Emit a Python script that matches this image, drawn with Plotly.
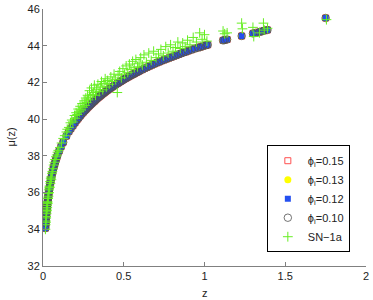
import plotly.graph_objects as go

# redshifts of the model points
z_model = [0.015,0.016,0.017,0.018,0.019,0.020,0.021,0.022,0.023,0.024,0.025,0.026,0.027,0.028,0.029,0.030,
           0.031,0.032,0.033,0.034,0.036,0.038,0.040,0.042,0.044,0.046,0.048,0.050,0.053,0.056,0.060,0.064,
           0.068,0.072,0.076,0.080,0.085,0.090,0.100,0.112,0.125,0.145,0.160,0.172,0.185,0.198,0.210,0.220,
           0.230,0.240,0.250,0.258,0.265,0.272,0.280,0.288,0.295,0.302,0.310,0.318,0.325,0.332,0.340,0.348,
           0.355,0.362,0.370,0.378,0.385,0.392,0.400,0.410,0.420,0.430,0.440,0.450,0.460,0.470,0.480,0.490,
           0.500,0.510,0.520,0.530,0.540,0.550,0.560,0.570,0.580,0.590,0.600,0.615,0.630,0.645,0.660,0.675,
           0.690,0.705,0.720,0.735,0.750,0.765,0.780,0.795,0.810,0.825,0.840,0.855,0.870,0.885,0.900,0.920,
           0.940,0.960,0.975,0.990,1.010,1.020,1.115,1.125,1.140,1.230,1.300,1.315,1.340,1.355,1.370,1.390,
           1.750]

# distance modulus of the models (curves for the four phi_i overlap)
mu_model = [34.06,34.20,34.33,34.46,34.58,34.70,34.80,34.91,35.00,35.10,35.19,35.27,35.36,35.44,35.52,35.60,
            35.67,35.74,35.81,35.88,36.01,36.13,36.24,36.35,36.46,36.56,36.65,36.74,36.87,37.00,37.15,37.30,
            37.43,37.56,37.68,37.79,37.92,38.04,38.26,38.50,38.74,39.08,39.32,39.48,39.64,39.80,39.95,40.06,
            40.17,40.28,40.38,40.46,40.52,40.59,40.66,40.73,40.79,40.85,40.92,40.98,41.04,41.10,41.16,41.22,
            41.27,41.32,41.38,41.43,41.48,41.53,41.58,41.64,41.70,41.76,41.82,41.88,41.94,41.99,42.05,42.10,
            42.16,42.21,42.26,42.31,42.36,42.41,42.45,42.50,42.55,42.59,42.64,42.70,42.77,42.83,42.89,42.95,
            43.01,43.07,43.12,43.18,43.23,43.28,43.33,43.38,43.43,43.48,43.53,43.58,43.63,43.67,43.72,43.78,
            43.84,43.89,43.93,43.97,44.03,44.05,44.29,44.31,44.34,44.53,44.67,44.70,44.75,44.78,44.82,44.86,
            45.51]

mu_phi015 = mu_model
mu_phi013 = mu_model
mu_phi012 = mu_model
mu_phi010 = mu_model

# SN-1a observations
z_sn = [0.015,0.016,0.017,0.018,0.019,0.020,0.021,0.022,0.023,0.024,0.025,0.026,0.027,0.028,0.029,0.030,
        0.032,0.033,0.034,0.036,0.037,0.038,0.040,0.042,0.044,0.046,0.048,0.050,0.052,0.055,0.058,0.062,
        0.066,0.070,0.075,0.080,0.085,0.090,0.095,
        0.105,0.115,0.125,0.135,0.145,0.150,0.160,0.170,0.178,0.185,0.195,0.200,0.205,0.212,0.218,0.225,
        0.230,0.236,0.242,0.248,0.255,0.260,0.265,0.270,0.276,0.282,0.288,0.293,0.300,0.305,0.312,0.318,
        0.325,0.332,0.340,0.348,0.355,0.362,0.370,0.378,0.385,0.392,0.400,0.410,0.420,0.430,0.440,0.450,
        0.460,0.465,0.475,0.485,0.495,0.505,0.515,0.525,0.535,0.545,0.555,0.565,0.575,0.585,0.595,0.605,
        0.615,0.625,0.640,0.655,0.670,0.685,0.700,0.715,0.730,0.745,0.760,0.775,0.790,0.805,0.820,0.835,
        0.850,0.865,0.880,0.895,0.910,0.930,0.950,0.970,0.985,1.000,1.015,
        1.115,1.125,1.140,1.230,1.235,1.300,1.305,1.340,1.365,1.370,1.390,1.755]
mu_sn = [34.00,34.25,34.45,34.38,34.70,34.62,34.95,34.85,35.10,35.02,35.30,35.18,35.45,35.50,35.40,35.70,
         35.68,35.95,35.80,36.15,36.00,36.25,36.35,36.28,36.60,36.50,36.78,36.85,36.70,37.05,37.15,37.30,
         37.50,37.65,37.80,37.95,38.05,38.20,38.30,
         38.45,38.70,38.95,39.10,39.30,39.45,39.55,39.80,39.95,39.85,40.20,40.05,40.35,40.25,40.55,40.40,
         40.70,40.50,40.85,40.65,41.00,40.75,41.15,40.90,41.30,41.05,41.55,41.20,41.70,41.35,41.45,41.85,
         41.30,41.60,41.90,41.50,41.75,42.05,41.60,41.95,42.20,41.75,42.10,41.90,42.30,42.05,42.45,42.15,
         41.45,42.40,42.60,42.25,42.75,42.45,42.90,42.55,43.00,42.70,43.15,42.80,43.25,42.85,43.05,43.35,
         42.95,43.50,43.10,43.60,43.20,43.70,43.35,43.55,43.80,43.45,43.95,43.60,44.05,43.70,43.90,44.20,
         43.85,44.15,43.95,44.30,44.05,44.45,44.20,44.70,44.35,44.60,44.25,
         44.80,44.65,44.70,45.23,44.92,45.00,44.50,44.70,45.23,44.85,44.95,45.42]

x_ticks = [0, 0.5, 1, 1.5, 2]
x_tick_labels = ["0", "0.5", "1", "1.5", "2"]
y_ticks = [32, 34, 36, 38, 40, 42, 44, 46]

FONT = "Liberation Sans, Arial, Helvetica, sans-serif"

fig = go.Figure()
fig.add_trace(go.Scatter(x=z_model, y=mu_phi015, mode="markers", name="ϕ<sub>i</sub>=0.15",
                         marker=dict(symbol="square-open", size=6, color="#ff5050", line=dict(width=1))))
fig.add_trace(go.Scatter(x=z_model, y=mu_phi013, mode="markers", name="ϕ<sub>i</sub>=0.13",
                         marker=dict(symbol="circle", size=7, color="#ffff00", line=dict(width=0))))
fig.add_trace(go.Scatter(x=z_model, y=mu_phi012, mode="markers", name="ϕ<sub>i</sub>=0.12",
                         marker=dict(symbol="square", size=6, color="#2450f0", line=dict(width=0))))
fig.add_trace(go.Scatter(x=z_model, y=mu_phi010, mode="markers", name="ϕ<sub>i</sub>=0.10",
                         marker=dict(symbol="circle-open", size=7.5, color="#505050", line=dict(width=0.8))))
fig.add_trace(go.Scatter(x=z_sn, y=mu_sn, mode="markers", name="SN−1a",
                         marker=dict(symbol="cross-thin-open", size=7, color="#66ee22",
                                     line=dict(width=1, color="#66ee22"))))

axis_common = dict(showline=True, linecolor="#808080", linewidth=1, ticks="inside", ticklen=4,
                   tickcolor="#808080", showgrid=False, zeroline=False, mirror=False, automargin=False,
                   tickfont=dict(family=FONT, size=11, color="#222222"))

fig.update_layout(
    width=373, height=300,
    margin=dict(l=43, r=7, t=9, b=34),
    paper_bgcolor="white", plot_bgcolor="white",
    font=dict(family=FONT, size=11, color="#222222"),
    xaxis=dict(range=[0, 2], tickvals=x_ticks, ticktext=x_tick_labels, **axis_common),
    yaxis=dict(range=[32, 46], tickvals=y_ticks, **axis_common),
    legend=dict(x=0.693, y=0.47, xanchor="left", yanchor="top", bgcolor="white",
                bordercolor="#000000", borderwidth=1, itemwidth=30,
                font=dict(family=FONT, size=11, color="#222222"), tracegroupgap=0),
    showlegend=True,
    annotations=[
        dict(text="z", xref="paper", yref="paper", x=0.5, y=-0.105, showarrow=False,
             xanchor="center", yanchor="middle", font=dict(family=FONT, size=11, color="#222222")),
        dict(text="μ(z)", xref="paper", yref="paper", x=-0.102, y=0.5, showarrow=False, textangle=-90,
             xanchor="center", yanchor="middle", font=dict(family=FONT, size=11, color="#222222")),
    ],
)

fig.write_html("out.html", config={"displayModeBar": False},
               post_script="document.body.style.margin='0';document.body.style.padding='0';")
